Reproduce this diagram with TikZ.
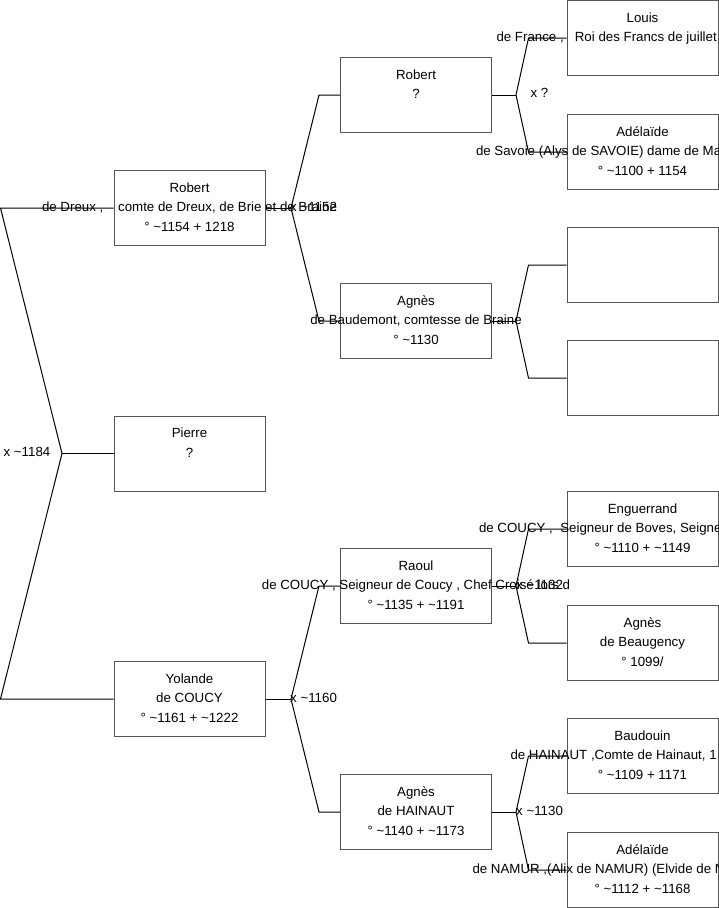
\documentclass[tikz,border=0pt]{standalone}
\usepackage{fontspec}
\setmainfont{Liberation Sans}
\usetikzlibrary{positioning}
\definecolor{cadre}{HTML}{555555}

% three lines of a card, centred on the box, free to run past its sides
\newcommand{\fiche}[3]{\makebox[0pt]{\strut#1}\\\makebox[0pt]{\strut#2}\\\makebox[0pt]{\strut#3}}
% a line whose visible part starts left of centre by half of #1
\newcommand{\coupe}[2]{\makebox[#1][l]{#2}}

\begin{document}
\begin{tikzpicture}[x=1pt, y=-1pt,
  card/.style={draw=cadre, line width=1pt, minimum width=151pt, minimum height=75pt,
               inner sep=0pt, align=center, font=\fontsize{13.3}{19.5}\selectfont},
  lien/.style={draw=black, line width=1pt},
  mariage/.style={font=\fontsize{13.3}{15}\selectfont, inner sep=0pt}
]
\useasboundingbox (0,0) rectangle (719,908);

% generation 1
\node[card] (robert)  at (189.5,208)   {\fiche{Robert}{de Dreux ,\ \ \ \ comte de Dreux, de Brie et de Braine}{° \textasciitilde1154 + 1218}};
\node[card] (pierre)  at (189.5,453.5) {\fiche{Pierre}{?}{}};
\node[card] (yolande) at (189.5,699)   {\fiche{Yolande}{de COUCY}{° \textasciitilde1161 + \textasciitilde1222}};

% generation 2
\node[card] (robert2) at (416,95)  {\fiche{Robert}{?}{}};
\node[card] (agnes1)  at (416,321) {\fiche{Agnès}{de Baudemont, comtesse de Braine}{° \textasciitilde1130}};
\node[card] (raoul)   at (416,586) {\fiche{Raoul}{de COUCY , Seigneur de Coucy , Chef Croisé lors d}{° \textasciitilde1135 + \textasciitilde1191}};
\node[card] (agnes2)  at (416,812) {\fiche{Agnès}{de HAINAUT}{° \textasciitilde1140 + \textasciitilde1173}};

% generation 3
\node[card] (louis)      at (642.5,38)  {\fiche{Louis}{\coupe{292pt}{de France ,\ \ \ Roi des Francs de juillet}}{}};
\node[card] (adelaide1)  at (642.5,152) {\fiche{Adélaïde}{\coupe{333pt}{de Savoie (Alys de SAVOIE) dame de Ma}}{° \textasciitilde1100 + 1154}};
\node[card] (vide1)      at (642.5,265) {\fiche{}{}{}};
\node[card] (vide2)      at (642.5,378) {\fiche{}{}{}};
\node[card] (enguerrand) at (642.5,529) {\fiche{Enguerrand}{\coupe{327pt}{de COUCY ,\ \ Seigneur de Boves, Seigne}}{° \textasciitilde1110 + \textasciitilde1149}};
\node[card] (agnes3)     at (642.5,643) {\fiche{Agnès}{de Beaugency}{° 1099/}};
\node[card] (baudouin)   at (642.5,756) {\fiche{Baudouin}{\coupe{264pt}{de HAINAUT ,Comte de Hainaut, 1}}{° \textasciitilde1109 + 1171}};
\node[card] (adelaide2)  at (642.5,870) {\fiche{Adélaïde}{\coupe{340pt}{de NAMUR ,(Alix de NAMUR) (Elvide de N}}{° \textasciitilde1112 + \textasciitilde1168}};

% forks
\coordinate (f0) at (62,453.5);
\coordinate (f1) at (291,208);
\coordinate (f2) at (291,699);
\coordinate (f3) at (516,95);
\coordinate (f4) at (516,321);
\coordinate (f5) at (516,586);
\coordinate (f6) at (516,812);

\draw[lien] (robert.west) -- ([xshift=-113pt]robert.west) -- (f0) -- ([xshift=-113pt]yolande.west) -- (yolande.west);
\draw[lien] (f0) -- (pierre.west);

\draw[lien] (robert.east) -- (f1);
\draw[lien] (robert2.west) -- ([xshift=-21pt]robert2.west) -- (f1) -- ([xshift=-21pt]agnes1.west) -- (agnes1.west);
\draw[lien] (yolande.east) -- (f2);
\draw[lien] (raoul.west) -- ([xshift=-21pt]raoul.west) -- (f2) -- ([xshift=-21pt]agnes2.west) -- (agnes2.west);

\draw[lien] (robert2.east) -- (f3);
\draw[lien] (louis.west) -- ([xshift=-38pt]louis.west) -- (f3) -- ([xshift=-38pt]adelaide1.west) -- (adelaide1.west);
\draw[lien] (agnes1.east) -- (f4);
\draw[lien] (vide1.west) -- ([xshift=-38pt]vide1.west) -- (f4) -- ([xshift=-38pt]vide2.west) -- (vide2.west);
\draw[lien] (raoul.east) -- (f5);
\draw[lien] (enguerrand.west) -- ([xshift=-38pt]enguerrand.west) -- (f5) -- ([xshift=-38pt]agnes3.west) -- (agnes3.west);
\draw[lien] (agnes2.east) -- (f6);
\draw[lien] (baudouin.west) -- ([xshift=-38pt]baudouin.west) -- (f6) -- ([xshift=-38pt]adelaide2.west) -- (adelaide2.west);

% marriages
\node[mariage] (m0) at (27,452)  {x \textasciitilde1184};
\node[mariage, anchor=west] (m1) at (290,207)  {x \textasciitilde1152};
\node[mariage, anchor=west] (m2) at (290,698)  {x \textasciitilde1160};
\node[mariage] (m3) at (539.5,93) {x ?};
\node[mariage, anchor=west] (m5) at (516,585)  {x \textasciitilde1132};
\node[mariage, anchor=west] (m6) at (516,811)  {x \textasciitilde1130};
\end{tikzpicture}
\end{document}
